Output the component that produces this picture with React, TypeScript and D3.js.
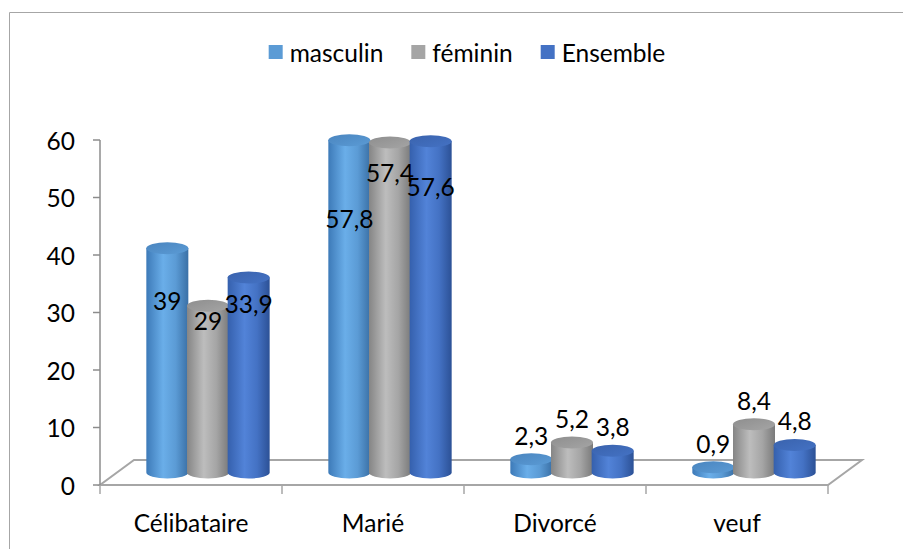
import React, { useEffect, useRef } from 'react';
import * as d3 from 'd3';

const categories = ['Célibataire', 'Marié', 'Divorcé', 'veuf'];
const seriesNames = ['masculin', 'féminin', 'Ensemble'];
const masculin = [39, 57.8, 2.3, 0.9];
const feminin = [29, 57.4, 5.2, 8.4];
const ensemble = [33.9, 57.6, 3.8, 4.8];
const yTicks = [0, 10, 20, 30, 40, 50, 60];

const seriesValues = [masculin, feminin, ensemble];

// fill, light middle, dark edge, top
const palette = [
  { base: '#5B9BD5', edge: '#3d7ab8', light: '#6aaee9', right: '#3a70a6', top: '#4a85bf' },
  { base: '#A5A5A5', edge: '#858585', light: '#bdbdbd', right: '#7a7a7a', top: '#8e8e8e' },
  { base: '#4472C4', edge: '#3560ad', light: '#5283d8', right: '#2c5196', top: '#3a63ad' },
];
// where Excel puts the data label along the tall cylinders
const labelFrac = [0.765, 0.91, 0.865];

const FONT = 'Lato, "Open Sans", "Liberation Sans", sans-serif';
const FS = 24.5;

const App: React.FC = () => {
  const svgRef = useRef<SVGSVGElement>(null);

  useEffect(() => {
    const svg = d3.select(svgRef.current);
    svg.selectAll('*').remove();
    const width = 903;

    const x0 = 100, x1 = 828;
    const yBase = 485, yTop = 140;
    const depthX = 34, depthY = 25;

    const x = d3.scaleBand<string>().domain(categories).range([x0, x1]).paddingInner(0).paddingOuter(0);
    const y = d3.scaleLinear().domain([0, 60]).range([yBase, yTop]);

    const defs = svg.append('defs');
    palette.forEach((p, i) => {
      const g = defs.append('linearGradient').attr('id', `cyl${i}`).attr('x1', '0').attr('x2', '1').attr('y1', '0').attr('y2', '0');
      g.append('stop').attr('offset', '0%').attr('stop-color', p.edge);
      g.append('stop').attr('offset', '40%').attr('stop-color', p.light);
      g.append('stop').attr('offset', '70%').attr('stop-color', p.base);
      g.append('stop').attr('offset', '100%').attr('stop-color', p.right);
      const t = defs.append('linearGradient').attr('id', `top${i}`).attr('x1', '0').attr('x2', '1').attr('y1', '0').attr('y2', '1');
      t.append('stop').attr('offset', '0%').attr('stop-color', p.top);
      t.append('stop').attr('offset', '100%').attr('stop-color', p.base);
    });

    // chart border
    svg.append('path')
      .attr('d', `M9.5,${549 + 5} V12.5 H${width + 5}`)
      .attr('fill', 'none').attr('stroke', '#a6a6a6').attr('stroke-width', 1);

    // legend
    const legend = svg.append('g').attr('font-family', FONT).attr('font-size', FS);
    let lx = 0;
    seriesNames.forEach((name, i) => {
      const g = legend.append('g');
      g.append('rect').attr('x', 0).attr('y', -7).attr('width', 14).attr('height', 14).attr('fill', palette[i].base);
      const txt = g.append('text').attr('x', 21).attr('y', 0).attr('dominant-baseline', 'central').attr('fill', '#000').text(name);
      const tw = (txt.node() as SVGTextElement).getComputedTextLength();
      g.attr('transform', `translate(${lx},52)`);
      lx += 21 + tw + 28;
    });
    const total = lx - 28;
    legend.attr('transform', `translate(${467 - total / 2},0)`);

    // floor
    svg.append('path')
      .attr('d', `M${x0},${yBase} L${x1},${yBase} L${x1 + depthX},${yBase - depthY} L${x0 + depthX},${yBase - depthY} Z`)
      .attr('fill', 'none').attr('stroke', '#a6a6a6').attr('stroke-width', 2).attr('stroke-linejoin', 'miter');

    // value axis
    svg.append('line').attr('x1', x0).attr('x2', x0).attr('y1', y(60)).attr('y2', yBase)
      .attr('stroke', '#8c8c8c').attr('stroke-width', 1.5);
    const ya = svg.append('g').attr('font-family', FONT).attr('font-size', FS);
    yTicks.forEach(t => {
      ya.append('line').attr('x1', x0 - 7).attr('x2', x0).attr('y1', y(t)).attr('y2', y(t)).attr('stroke', '#8c8c8c').attr('stroke-width', 1.5);
      ya.append('text').attr('x', x0 - 25).attr('y', y(t)).attr('text-anchor', 'end').attr('dominant-baseline', 'central').text(String(t));
    });

    // category axis ticks + labels
    const xa = svg.append('g').attr('font-family', FONT).attr('font-size', FS);
    [...categories.map(c => x(c)!), x1].forEach(t => {
      xa.append('line').attr('x1', t).attr('x2', t).attr('y1', yBase).attr('y2', yBase + 9).attr('stroke', '#a6a6a6').attr('stroke-width', 1.5);
    });
    categories.forEach(c => {
      xa.append('text').attr('x', x(c)! + x.bandwidth() / 2).attr('y', 522).attr('text-anchor', 'middle').attr('dominant-baseline', 'central').text(c);
    });

    // cylinders
    const unit = (y(0) - y(10)) / 10;
    const rx = 21, ry = 6;
    const bars = svg.append('g');
    const labels = svg.append('g').attr('font-family', FONT).attr('font-size', FS);
    categories.forEach((c, ci) => {
      const cx = x(c)! + x.bandwidth() / 2 + depthX / 2;
      const inner = d3.scaleBand<number>().domain([0, 1, 2]).range([cx - 61, cx + 61]);
      seriesValues.forEach((vals, si) => {
        const v = vals[ci];
        const bx = inner(si)! + inner.bandwidth() / 2;
        const base = y(0) - depthY / 2;
        const top = y(v) - depthY / 2;
        bars.append('path')
          .attr('d', `M${bx - rx},${top} L${bx - rx},${base} A${rx},${ry} 0 0 0 ${bx + rx},${base} L${bx + rx},${top} Z`)
          .attr('fill', `url(#cyl${si})`);
        bars.append('ellipse').attr('cx', bx).attr('cy', top).attr('rx', rx).attr('ry', ry)
          .attr('fill', `url(#top${si})`);
        const lv = v < 10 ? v + 4.2 : v * labelFrac[si];
        labels.append('text')
          .attr('x', bx).attr('y', base - lv * unit)
          .attr('text-anchor', 'middle').attr('dominant-baseline', 'central')
          .attr('fill', '#000')
          .text(String(v).replace('.', ','));
      });
    });
  }, []);

  return (
    <svg ref={svgRef} width={903} height={549}
      style={{ position: 'absolute', left: 0, top: 0, display: 'block', background: '#fff' }} />
  );
};

export default App;
